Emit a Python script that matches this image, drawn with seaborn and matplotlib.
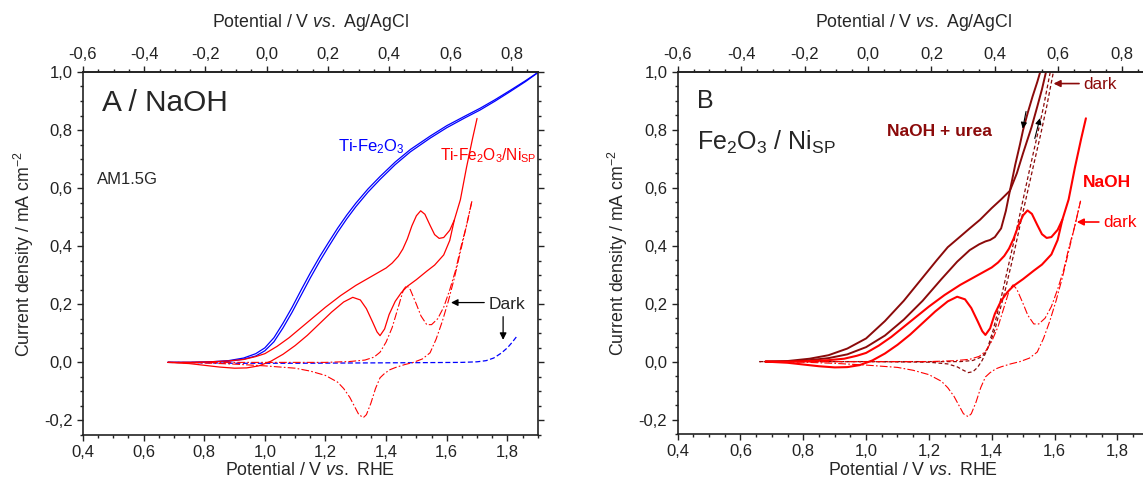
import numpy as np
import pandas as pd
import matplotlib
import matplotlib.pyplot as plt
import matplotlib.ticker as mticker
import seaborn as sns

sns.set_style("ticks")
plt.rcParams['font.family'] = ['Liberation Sans', 'DejaVu Sans']
plt.rcParams['mathtext.fontset'] = 'custom'
plt.rcParams['mathtext.rm'] = 'Liberation Sans'
plt.rcParams['mathtext.it'] = 'Liberation Sans:italic'
plt.rcParams['mathtext.bf'] = 'Liberation Sans:bold'
plt.rcParams['axes.unicode_minus'] = False

# ---- panel A / NaOH : Ti-Fe2O3 under light (forward and backward scan) ----
blue_V = [0.68, 0.75, 0.82, 0.88, 0.93, 0.97, 1.00, 1.03, 1.06, 1.09, 1.12, 1.15, 1.182, 1.21,
          1.24, 1.27, 1.30, 1.34, 1.38, 1.43, 1.48, 1.545, 1.60, 1.66, 1.71, 1.76, 1.81, 1.86, 1.90]
blue_fwd = [0.0, 0.0, 0.002, 0.006, 0.015, 0.03, 0.05, 0.085, 0.135, 0.19, 0.25, 0.308, 0.366, 0.413,
            0.462, 0.507, 0.548, 0.597, 0.64, 0.69, 0.733, 0.779, 0.815, 0.848, 0.875, 0.905, 0.937,
            0.97, 0.998]
blue_bwd = [0.0, 0.0, 0.001, 0.004, 0.011, 0.022, 0.04, 0.071, 0.119, 0.173, 0.232, 0.291, 0.35, 0.398,
            0.448, 0.494, 0.536, 0.586, 0.63, 0.681, 0.725, 0.772, 0.808, 0.842, 0.869, 0.9, 0.933,
            0.967, 0.997]

# Ti-Fe2O3 dark
bdark_V = [0.68, 0.90, 1.10, 1.30, 1.50, 1.65, 1.70, 1.73, 1.755, 1.78, 1.80, 1.815, 1.83]
bdark_j = [0.0, -0.003, -0.003, -0.002, -0.001, 0.0, 0.002, 0.006, 0.015, 0.032, 0.05, 0.068, 0.088]

# Ti-Fe2O3/Ni_SP under light: upper and lower branch of the CV
red_up_V = [0.68, 0.75, 0.82, 0.88, 0.93, 0.97, 1.00, 1.04, 1.08, 1.12, 1.16, 1.20, 1.25, 1.30, 1.35,
            1.40, 1.42, 1.44, 1.455, 1.47, 1.485, 1.50, 1.514, 1.528, 1.545, 1.56, 1.575, 1.59, 1.61,
            1.625, 1.645, 1.665, 1.685, 1.70]
red_up_j = [0.0, 0.0, 0.002, 0.005, 0.01, 0.02, 0.03, 0.055, 0.085, 0.12, 0.155, 0.19, 0.23, 0.265,
            0.295, 0.325, 0.342, 0.365, 0.39, 0.425, 0.47, 0.505, 0.522, 0.51, 0.472, 0.44, 0.427,
            0.43, 0.455, 0.49, 0.56, 0.67, 0.77, 0.84]
red_lo_V = [0.68, 0.75, 0.80, 0.85, 0.90, 0.94, 0.98, 1.02, 1.06, 1.10, 1.14, 1.18, 1.22, 1.26, 1.29,
            1.315, 1.335, 1.355, 1.37, 1.38, 1.395, 1.41, 1.43, 1.45, 1.47, 1.50, 1.534, 1.56, 1.59,
            1.61, 1.625]
red_lo_j = [0.0, -0.004, -0.01, -0.016, -0.02, -0.019, -0.012, 0.004, 0.028, 0.058, 0.093, 0.133, 0.173,
            0.208, 0.224, 0.215, 0.185, 0.14, 0.105, 0.092, 0.115, 0.165, 0.21, 0.24, 0.262, 0.285,
            0.314, 0.335, 0.37, 0.42, 0.49]

# Ti-Fe2O3/Ni_SP dark
rdark_fwd_V = [0.68, 0.80, 0.90, 1.00, 1.10, 1.20, 1.28, 1.33, 1.36, 1.38, 1.40, 1.42, 1.44, 1.457,
               1.468, 1.48, 1.50, 1.515, 1.534, 1.55, 1.57, 1.59, 1.61, 1.63, 1.645, 1.665, 1.683]
rdark_fwd_j = [0.0, 0.0, 0.0, 0.0, 0.0, 0.0, 0.003, 0.008, 0.018, 0.035, 0.07, 0.12, 0.19, 0.25,
               0.265, 0.25, 0.2, 0.16, 0.13, 0.13, 0.15, 0.19, 0.25, 0.32, 0.39, 0.47, 0.555]
rdark_rev_V = [1.683, 1.665, 1.645, 1.625, 1.605, 1.585, 1.565, 1.545, 1.52, 1.49, 1.46, 1.43, 1.413,
               1.395, 1.38, 1.365, 1.35, 1.335, 1.325, 1.31, 1.295, 1.28, 1.26, 1.24, 1.20, 1.15, 1.10,
               1.00, 0.90, 0.80, 0.68]
rdark_rev_j = [0.555, 0.47, 0.38, 0.29, 0.21, 0.14, 0.08, 0.033, 0.012, 0.0, -0.008, -0.018, -0.025,
               -0.038, -0.053, -0.09, -0.14, -0.18, -0.19, -0.18, -0.15, -0.12, -0.09, -0.068, -0.045,
               -0.03, -0.02, -0.012, -0.006, -0.002, 0.0]

# ---- panel B : NaOH + urea, light ----
urea_s_V = [0.68, 0.75, 0.82, 0.88, 0.94, 1.00, 1.06, 1.12, 1.18, 1.24, 1.29, 1.33, 1.36, 1.38, 1.395,
            1.41, 1.43, 1.445, 1.458, 1.475, 1.49, 1.50, 1.515, 1.53, 1.545, 1.56, 1.575]
urea_s_j = [0.0, 0.0, 0.005, 0.012, 0.025, 0.05, 0.09, 0.145, 0.21, 0.285, 0.345, 0.385, 0.405, 0.415,
            0.42, 0.43, 0.46, 0.52, 0.59, 0.68, 0.75, 0.80, 0.86, 0.915, 0.965, 1.02, 1.08]
urea_g_V = [0.68, 0.75, 0.82, 0.88, 0.94, 1.00, 1.06, 1.12, 1.18, 1.225, 1.26, 1.30, 1.33, 1.363, 1.40,
            1.43, 1.458, 1.48, 1.50, 1.527, 1.545, 1.56, 1.575, 1.59]
urea_g_j = [0.0, 0.002, 0.01, 0.022, 0.045, 0.08, 0.14, 0.21, 0.29, 0.35, 0.395, 0.432, 0.46, 0.49,
            0.53, 0.56, 0.59, 0.65, 0.72, 0.81, 0.88, 0.94, 1.01, 1.07]

# NaOH + urea, dark
udark_fwd_V = [0.66, 0.80, 1.00, 1.20, 1.30, 1.34, 1.37, 1.39, 1.41, 1.443, 1.47, 1.49, 1.517, 1.54,
               1.555, 1.575, 1.60]
udark_fwd_j = [0.0, 0.0, 0.0, 0.0, 0.0, 0.004, 0.017, 0.05, 0.11, 0.247, 0.37, 0.47, 0.6, 0.71, 0.78,
               0.88, 1.02]
udark_rev_V = [1.59, 1.565, 1.545, 1.52, 1.50, 1.48, 1.455, 1.43, 1.405, 1.385, 1.37, 1.355, 1.34,
               1.325, 1.31, 1.29, 1.26, 1.20, 1.00, 0.80, 0.66]
udark_rev_j = [1.02, 0.88, 0.78, 0.66, 0.56, 0.46, 0.34, 0.22, 0.11, 0.04, 0.005, -0.02, -0.035,
               -0.038, -0.03, -0.018, -0.008, -0.002, 0.0, 0.0, 0.0]

RED = '#ff0000'
BLUE = '#0000ff'
DRED = '#8b0a0a'
DASHDOT = (0, (7, 2, 1.5, 2))


def curve(ax, V, j, color, lw, ls='-'):
    d = pd.DataFrame({'V': V, 'j': j})
    sns.lineplot(data=d, x='V', y='j', ax=ax, sort=False, estimator=None,
                 color=color, lw=lw, linestyle=ls)


def comma(v, pos):
    return f"{v:.1f}".replace('.', ',').replace('-0,0', '0,0')


def rhe_to_agcl(x):
    return (x - 0.4) * 0.99 - 0.6


def agcl_to_rhe(x):
    return (x + 0.6) / 0.99 + 0.4


def style_axes(ax):
    ax.set_xlim(0.4, 1.9)
    ax.set_ylim(-0.25, 1.0)
    ax.xaxis.set_major_locator(mticker.MultipleLocator(0.2))
    ax.xaxis.set_minor_locator(mticker.MultipleLocator(0.05))
    ax.yaxis.set_major_locator(mticker.MultipleLocator(0.2))
    ax.yaxis.set_minor_locator(mticker.MultipleLocator(0.05))
    ax.xaxis.set_major_formatter(mticker.FuncFormatter(comma))
    ax.yaxis.set_major_formatter(mticker.FuncFormatter(comma))
    ax.tick_params(which='both', direction='out', right=True, top=False, labelright=False,
                   width=1.0, labelsize=12, colors='#222222')
    ax.tick_params(which='major', length=4.5, pad=3)
    ax.tick_params(which='minor', length=2.5)
    for s in ax.spines.values():
        s.set_linewidth(1.2)
        s.set_color('#222222')
    ax.set_xlabel("Potential / V $\\it{vs.}$ RHE", fontsize=12.8, labelpad=1.5)
    ax.set_ylabel("Current density / mA cm$^{-2}$", fontsize=12.8, labelpad=6)
    top = ax.secondary_xaxis('top', functions=(rhe_to_agcl, agcl_to_rhe))
    top.xaxis.set_major_locator(mticker.MultipleLocator(0.2))
    top.xaxis.set_minor_locator(mticker.MultipleLocator(0.05))
    top.xaxis.set_major_formatter(mticker.FuncFormatter(comma))
    top.tick_params(which='both', direction='out', width=1.0, labelsize=12, colors='#222222')
    top.tick_params(which='major', length=4.5, pad=3)
    top.tick_params(which='minor', length=2.5)
    top.spines['top'].set_linewidth(1.2)
    top.set_xlabel("Potential / V $\\it{vs.}$ Ag/AgCl", fontsize=12.8, labelpad=14)
    ax.grid(False)


fig = plt.figure(figsize=(11.43, 4.87), dpi=100)
axA = fig.add_axes([0.0726, 0.1068, 0.3978, 0.7454])
axB = fig.add_axes([0.5929, 0.1088, 0.4121, 0.7434])

# panel A
curve(axA, blue_V, blue_fwd, BLUE, 0.9)
curve(axA, blue_V, blue_bwd, BLUE, 0.9)
curve(axA, bdark_V, bdark_j, BLUE, 0.9, (0, (4, 2)))
curve(axA, red_up_V, red_up_j, RED, 0.9)
curve(axA, red_lo_V, red_lo_j, RED, 0.9)
curve(axA, rdark_fwd_V, rdark_fwd_j, RED, 0.8, DASHDOT)
curve(axA, rdark_rev_V, rdark_rev_j, RED, 0.8, DASHDOT)
style_axes(axA)

axA.text(0.463, 0.866, "A / NaOH", fontsize=21.5, va='baseline')
axA.text(0.446, 0.613, "AM1.5G", fontsize=12, va='baseline')
axA.text(1.242, 0.728, "Ti-Fe$_2$O$_3$", fontsize=12, color=BLUE, va='baseline')
axA.text(1.578, 0.695, "Ti-Fe$_2$O$_3$/Ni$_{\\rm SP}$", fontsize=11.2, color=RED, va='baseline')
axA.text(1.737, 0.184, "Dark", fontsize=12.5, va='baseline')
axA.annotate("", xy=(1.605, 0.206), xytext=(1.733, 0.206),
             arrowprops=dict(arrowstyle='-|>', color='black', lw=0.9, mutation_scale=10))
axA.annotate("", xy=(1.786, 0.068), xytext=(1.786, 0.167),
             arrowprops=dict(arrowstyle='-|>', color='black', lw=0.9, mutation_scale=10))

# panel B
curve(axB, udark_fwd_V, udark_fwd_j, DRED, 0.9, (0, (3, 2)))
curve(axB, udark_rev_V, udark_rev_j, DRED, 0.9, (0, (3, 2)))
curve(axB, rdark_fwd_V, rdark_fwd_j, RED, 0.8, DASHDOT)
curve(axB, rdark_rev_V, rdark_rev_j, RED, 0.8, DASHDOT)
curve(axB, urea_s_V, urea_s_j, DRED, 1.4)
curve(axB, urea_g_V, urea_g_j, DRED, 1.4)
curve(axB, red_up_V, red_up_j, RED, 1.5)
curve(axB, red_lo_V, red_lo_j, RED, 1.5)
style_axes(axB)

axB.text(0.461, 0.876, "B", fontsize=18, va='baseline')
axB.text(0.461, 0.732, "Fe$_2$O$_3$ / Ni$_{\\rm SP}$", fontsize=18, va='baseline')
axB.text(1.066, 0.78, "NaOH + urea", fontsize=12.5, color=DRED, fontweight='bold', va='baseline')
axB.text(1.691, 0.603, "NaOH", fontsize=12.5, color=RED, fontweight='bold', va='baseline')
axB.text(1.691, 0.942, "dark", fontsize=12.3, color=DRED, va='baseline')
axB.text(1.754, 0.466, "dark", fontsize=12.3, color=RED, va='baseline')
axB.annotate("", xy=(1.588, 0.96), xytext=(1.687, 0.96),
             arrowprops=dict(arrowstyle='-|>', color=DRED, lw=1.2, mutation_scale=10))
axB.annotate("", xy=(1.662, 0.482), xytext=(1.75, 0.482),
             arrowprops=dict(arrowstyle='-|>', color=RED, lw=1.2, mutation_scale=10))
axB.annotate("", xy=(1.497, 0.795), xytext=(1.511, 0.873),
             arrowprops=dict(arrowstyle='-|>', color='black', lw=0.8, mutation_scale=9))
axB.annotate("", xy=(1.556, 0.85), xytext=(1.535, 0.761),
             arrowprops=dict(arrowstyle='-|>', color='black', lw=0.8, mutation_scale=9))

fig.savefig('out.png', dpi=100)
